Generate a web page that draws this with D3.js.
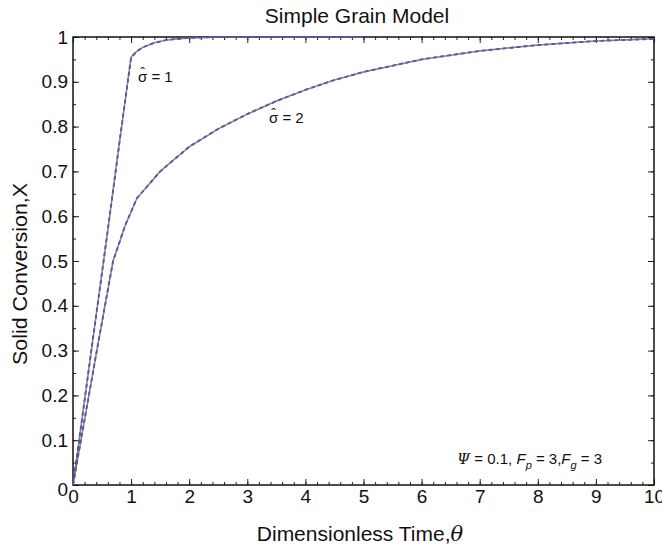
<!DOCTYPE html>
<html lang="en">
  <head>
    <meta charset="UTF-8">
    <title>Simple Grain Model</title>
    <style>
      body { margin: 0; background: #fff; }
      text { font-family: "Liberation Sans", Arial, sans-serif; fill: #111; }
    </style>
  </head>
  <body>
    <div id="chart"></div>
    <script src="https://d3js.org/d3.v7.js"></script>
    <script>
      // curve for sigma-hat = 1
      var theta1 = [0, 0.2, 0.4, 0.6, 0.8, 1.0, 1.1, 1.2, 1.4, 1.6, 1.8, 2.0, 2.5, 3.0, 4.0, 5.0];
      var conv1  = [0, 0.19, 0.38, 0.57, 0.765, 0.955, 0.968, 0.977, 0.987, 0.993, 0.996, 0.998, 1.0, 1.0, 1.0, 1.0];
      // curve for sigma-hat = 2
      var theta2 = [0, 0.41, 0.69, 0.9, 1.1, 1.5, 2.0, 2.5, 3.0, 3.5, 4.0, 4.5, 5.0, 6.0, 7.0, 8.0, 9.0, 10.0];
      var conv2  = [0, 0.30, 0.50, 0.58, 0.64, 0.70, 0.755, 0.795, 0.828, 0.857, 0.882, 0.904, 0.922, 0.95, 0.969, 0.982, 0.991, 0.996];
      var xTicks = [0, 1, 2, 3, 4, 5, 6, 7, 8, 9, 10];
      var yTicks = [0, 0.1, 0.2, 0.3, 0.4, 0.5, 0.6, 0.7, 0.8, 0.9, 1];

      var W = 662, H = 547;
      var margin = {top: 37, right: 8, bottom: 62, left: 73};
      var width = W - margin.left - margin.right,
          height = H - margin.top - margin.bottom;

      var svg = d3.select("#chart").append("svg")
          .attr("width", W).attr("height", H);
      var g = svg.append("g")
          .attr("transform", "translate(" + margin.left + "," + margin.top + ")");

      var x = d3.scaleLinear().domain([0, 10]).range([0, width]);
      var y = d3.scaleLinear().domain([0, 1]).range([height, 0]);

      var xMinor = d3.range(0, 10.001, 0.2);
      var yMinor = d3.range(0, 1.0001, 0.05);

      // ticks on all four sides, pointing in
      function tickAxis(axis, vals, len, tr) {
        g.append("g").attr("transform", tr)
          .call(axis.tickValues(vals).tickSize(len).tickFormat(""))
          .call(function(s){ s.select(".domain").remove(); s.selectAll("line").attr("stroke", "#222"); });
      }
      [[xMinor, 3], [xTicks, 6]].forEach(function(t) {
        tickAxis(d3.axisTop(x), t[0], t[1], "translate(0," + height + ")");
        tickAxis(d3.axisBottom(x), t[0], t[1], "translate(0,0)");
      });
      [[yMinor, 3], [yTicks, 6]].forEach(function(t) {
        tickAxis(d3.axisRight(y), t[0], t[1], "translate(0,0)");
        tickAxis(d3.axisLeft(y), t[0], t[1], "translate(" + width + ",0)");
      });

      // tick labels
      g.append("g").attr("transform", "translate(0," + height + ")")
        .call(d3.axisBottom(x).tickValues(xTicks).tickSize(0).tickPadding(5).tickFormat(d3.format("d")))
        .call(function(s){
          s.select(".domain").remove();
          s.selectAll("text").style("font-size", "19px").attr("fill", "#111")
            .attr("font-family", "Liberation Sans, Arial, sans-serif");
        });
      g.append("g")
        .call(d3.axisLeft(y).tickValues(yTicks).tickSize(0).tickPadding(5)
          .tickFormat(function(d){ return d === 0 || d === 1 ? d3.format("d")(d) : d3.format(".1f")(d); }))
        .call(function(s){
          s.select(".domain").remove();
          s.selectAll("text").style("font-size", "19px").attr("fill", "#111")
            .attr("font-family", "Liberation Sans, Arial, sans-serif");
          s.selectAll(".tick").filter(function(d){ return d === 0; }).select("text").attr("dy", "0.55em");
        });

      // frame
      g.append("rect").attr("width", width).attr("height", height)
        .attr("fill", "none").attr("stroke", "#111").attr("stroke-width", 1.5);

      // curves: blue dashed under a grey solid line
      var line = d3.line().x(function(d){ return x(d[0]); }).y(function(d){ return y(d[1]); });
      var curves = [d3.zip(theta1, conv1), d3.zip(theta2, conv2)];
      curves.forEach(function(c) {
        g.append("path").datum(c).attr("d", line)
          .attr("fill", "none").attr("stroke", "#2a2ac0").attr("stroke-width", 1.8)
          .attr("stroke-dasharray", "4,3");
        g.append("path").datum(c).attr("d", line)
          .attr("fill", "none").attr("stroke", "#6b6b85").attr("stroke-width", 1.5)
          .attr("stroke-opacity", 0.85);
      });

      // titles
      svg.append("text").attr("x", 357).attr("y", 23).attr("text-anchor", "middle")
        .style("font-size", "21px").text("Simple Grain Model");
      svg.append("text").attr("x", 360).attr("y", 541).attr("text-anchor", "middle")
        .style("font-size", "21px")
        .call(function(t){
          t.append("tspan").text("Dimensionless Time,");
          t.append("tspan").attr("font-family", "DejaVu Serif, serif").style("font-style", "italic").text("θ");
        });
      svg.append("text").attr("transform", "translate(27,274) rotate(-90)")
        .attr("text-anchor", "middle").style("font-size", "21px")
        .attr("textLength", 182).attr("lengthAdjust", "spacingAndGlyphs")
        .text("Solid Conversion,X");

      // sigma-hat labels
      function sigmaLabel(px, py, rest) {
        var t = svg.append("text").attr("x", px).attr("y", py).style("font-size", "15px");
        var s = t.append("tspan").text("σ");
        t.append("tspan").text(rest);
        var w = s.node().getComputedTextLength();
        svg.append("text").attr("x", px + w / 2).attr("y", py - 4).attr("text-anchor", "middle")
          .style("font-size", "14px").text("\u02C6");
      }
      sigmaLabel(138, 82, " = 1");
      sigmaLabel(269, 123, " = 2");

      var note = svg.append("text").attr("x", 457).attr("y", 464).style("font-size", "15px");
      note.append("tspan").style("font-style", "italic").attr("font-family", "DejaVu Serif, serif").text("Ψ");
      note.append("tspan").text(" = 0.1, ");
      note.append("tspan").style("font-style", "italic").text("F");
      note.append("tspan").style("font-style", "italic").style("font-size", "11px").attr("dy", 5).text("p");
      note.append("tspan").attr("dy", -5).text(" = 3,");
      note.append("tspan").style("font-style", "italic").text("F");
      note.append("tspan").style("font-style", "italic").style("font-size", "11px").attr("dy", 5).text("g");
      note.append("tspan").attr("dy", -5).text(" = 3");
    </script>
  </body>
</html>
